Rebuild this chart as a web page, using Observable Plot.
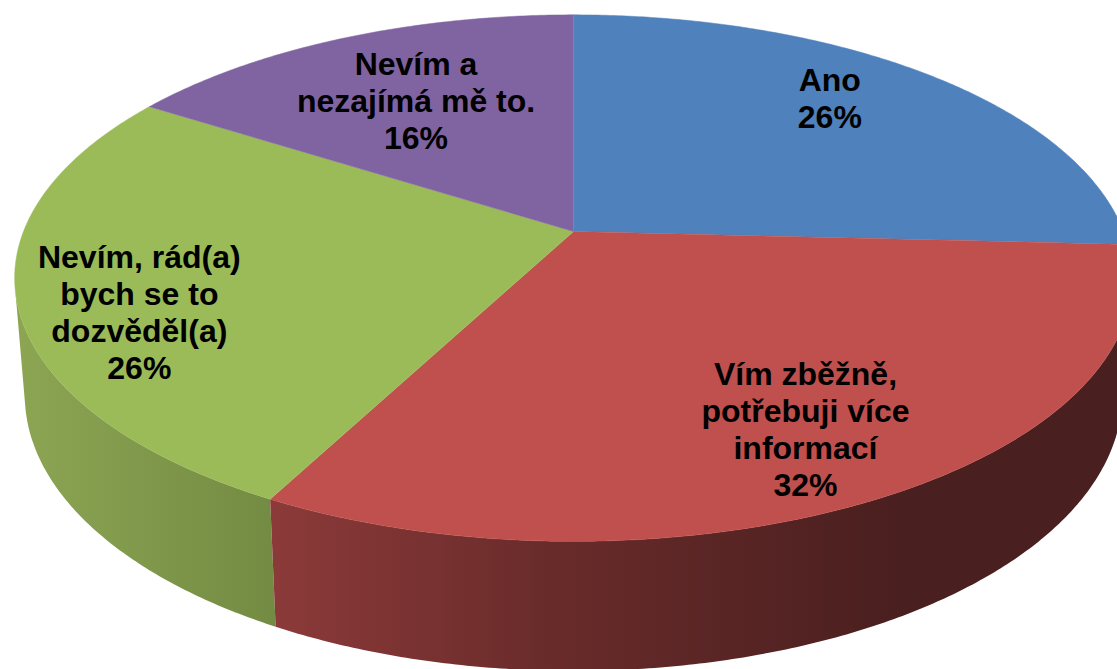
<!DOCTYPE html>
<html><head><meta charset="utf-8">
<script src="https://cdn.jsdelivr.net/npm/d3@7"></script>
<script src="https://cdn.jsdelivr.net/npm/@observablehq/plot@0.6"></script>
<style>html,body{margin:0;padding:0;background:#fff;overflow:hidden}</style>
</head><body><div id="chart"></div>
<script>
const categories = ["Ano", "Vím zběžně,\npotřebuji více\ninformací", "Nevím, rád(a)\nbych se to\ndozvěděl(a)", "Nevím a\nnezajímá mě to."];
const shares = [25.8, 31.9, 26.3, 16];
const topColors = ["#4f81bd", "#c0504d", "#9bbb59", "#8064a2"];
const labelRadius = [0.772, 0.775, 0.805, 0.65];
const labelShift = [-4.74, 1.1, -6.8, -0.2];
const W = 1117, H = 669;

// perspective view of the disc: upper face and lower edge
const upper = {ax: 550, ay: 255, drop: 0};
const lower = {ax: 540, ay: 267, drop: 115};
const view = {cx: 573, cy: 231, k: 0.177, leftTangent: 258};
function project(deg, r = 1, ring = upper) {
  const t = deg * Math.PI / 180, a = r * Math.sin(t), b = r * Math.cos(t), d = 1 + view.k * b;
  return {x: view.cx + ring.ax * a / d, y: view.cy + ring.drop - ring.ay * b / d};
}
const total = d3.sum(shares);
const starts = d3.cumsum([0, ...shares]).map(v => v / total * 360);
const slices = shares.map((v, i) => ({i, from: starts[i], to: starts[i + 1], value: v, name: categories[i]}));
const angles = (from, to) => d3.range(from, to, 0.5).concat(to);
const faces = s => [{x: view.cx, y: view.cy}, ...angles(s.from, s.to).map(a => project(a, 1, upper))];
// the visible wall runs from the slice's first edge to where the rim turns out of sight
const walls = s => {
  const end = Math.min(s.to, s.from < view.leftTangent && s.to > view.leftTangent ? view.leftTangent : s.to);
  const as = angles(s.from, end);
  return [...as.map(a => project(a, 1, upper)), ...as.slice().reverse().map(a => project(a, 1, lower))];
};
const labels = slices.map((s, i) => ({
  ...project((s.from + s.to) / 2 + labelShift[i], labelRadius[i]),
  text: `${s.name}\n${Math.round(s.value)}%`
}));

function gradients() {
  const defs = d3.create("svg:defs");
  const add = (id, x1, x2, stops) => {
    const g = defs.append("linearGradient").attr("id", id).attr("gradientUnits", "userSpaceOnUse")
      .attr("x1", x1).attr("x2", x2).attr("y1", 0).attr("y2", 0);
    stops.forEach(([o, c]) => g.append("stop").attr("offset", o).attr("stop-color", c));
  };
  add("redWall", 272, 900, [[0, "#8b3a39"], [0.45, "#682b2a"], [1, "#4a1f1f"]]);
  add("greenWall", 20, 280, [[0, "#8ca553"], [1, "#738a42"]]);
  return defs.node();
}

const plot = Plot.plot({
  width: W, height: H,
  margin: 0,
  x: {domain: [0, W], range: [0, W], axis: null},
  y: {domain: [0, H], range: [0, H], axis: null},
  style: {background: "#fff"},
  marks: [
    gradients,
    Plot.line(walls(slices[2]), {x: "x", y: "y", fill: "url(#greenWall)", stroke: "none"}),
    Plot.line(walls(slices[1]), {x: "x", y: "y", fill: "url(#redWall)", stroke: "none"}),
    ...slices.map((s, i) => Plot.line(faces(s), {x: "x", y: "y", fill: topColors[i], stroke: topColors[i], strokeWidth: 0.5})),
    Plot.text(labels, {
      x: "x", y: "y", text: "text", fill: "#000",
      fontFamily: "'Liberation Sans', Arial, sans-serif", fontWeight: "bold", fontSize: 32,
      lineHeight: 1.155, textAnchor: "middle"
    })
  ]
});
document.getElementById("chart").append(plot);
</script>
</body></html>
